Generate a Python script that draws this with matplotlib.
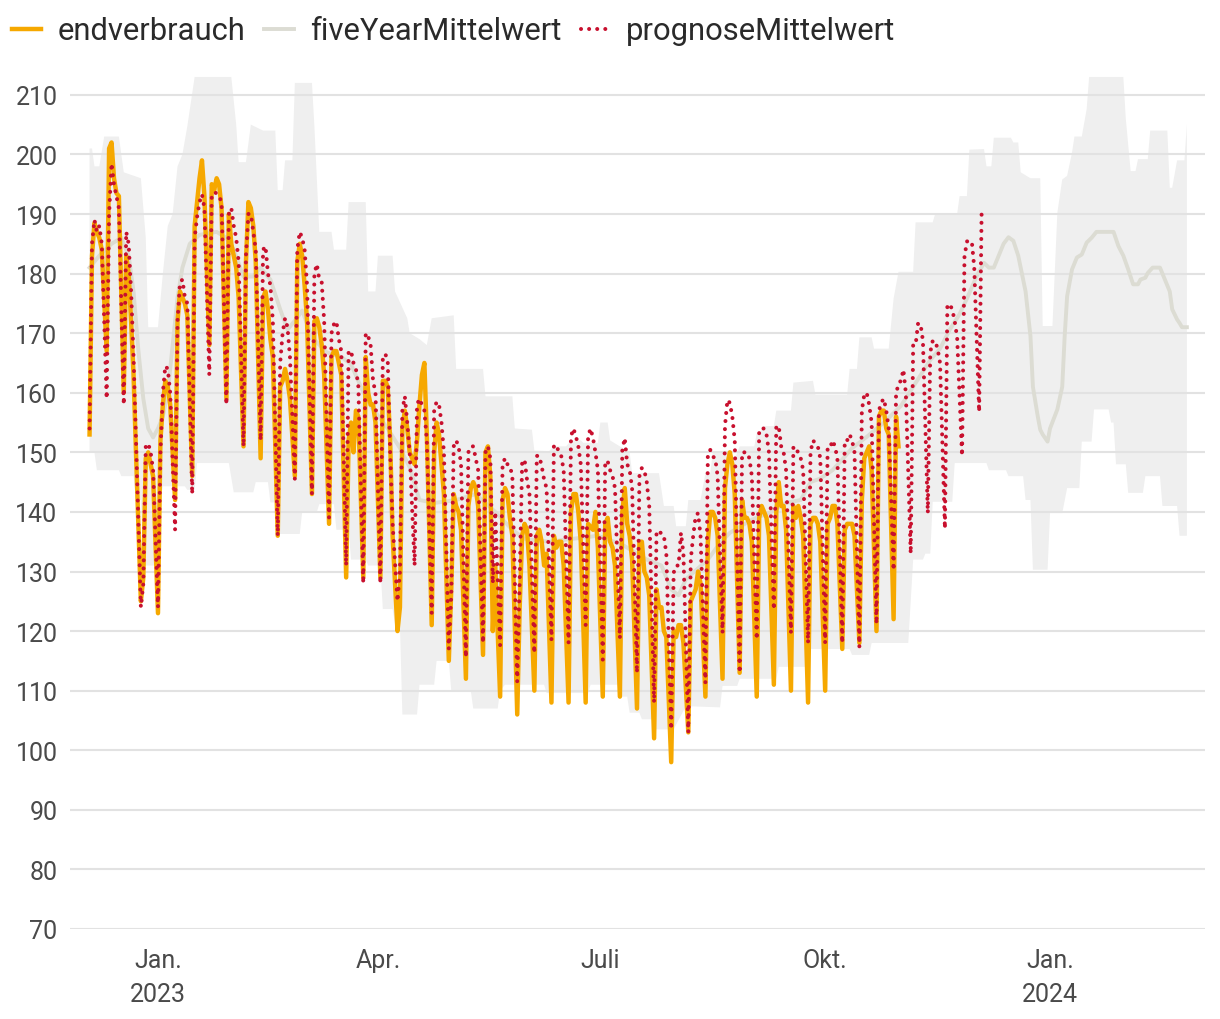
import numpy as np
import pandas as pd
import matplotlib
matplotlib.use("Agg")
import matplotlib.pyplot as plt
from matplotlib.lines import Line2D

plt.rcParams['font.family'] = ['Roboto', 'DejaVu Sans']

# ===================================================
# DATEN
# Wochenzeilen ab Sonntag 2022-12-04: So, Mo, Di, Mi, Do, Fr
# (Samstag nicht abgelesen)
# ===================================================

start_woche = "2022-12-04"

endverbrauch = [
    [153, 183, 188.5, 187, 186, 184],
    [167, 201, 202, 196, 193.5, 193],
    [160, 183, 180, 172, 163, 150],
    [125, 129, 149, 150, 148, 146],
    [123, 152, 158, 162, 161, 158],
    [142, 172, 177, 176, 175, 173],
    [146, 188, 192, 196, 199, 193],
    [168, 195, 194, 196, 195, 191],
    [159, 190, 185, 183, 181, 176],
    [151, 182, 192, 191, 188, 182],
    [149, 176, 177, 174, 169, 166],
    [136, 161, 162, 164, 162, 159],
    [146, 182, 185, 183, 178, 172],
    [143, 172, 172.5, 171, 168, 163],
    [138, 166, 167, 167, 165, 163],
    [129, 152, 155, 150, 157, 156],
    [129, 166, 160, 158, 158, 155],
    [129, 162, 162, 161, 152, 136],
    [120, 124, 154, 157, 154, 150],
    [148, 152, 158, 163, 165, 153],
    [121, 150, 155, 153, 148, 143],
    [115, 127, 143, 141, 140, 137],
    [112, 141, 144, 145, 144, 141],
    [116, 150, 151, 146, 120, 131],
    [109, 142, 144, 143, 139, 136],
    [106, 124, 136, 138, 137, 131],
    [110, 136, 137, 135, 131, 133],
    [108, 136, 134, 135, 135, 131],
    [108, 140, 143, 143, 140, 135],
    [108, 138, 137.5, 137, 140, 134],
    [109, 138, 139, 135, 134, 131],
    [109, 140, 144, 138, 136, 132],
    [107, 135, 135, 130, 129, 126],
    [102, 127, 124, 124, 120, 119],
    [98, 120, 119, 121, 121, 118],
    [103, 125, 126, 127, 130, 128],
    [109, 135, 140, 140, 139, 136],
    [112, 144, 148, 150, 148, 143],
    [113, 142, 139, 139, 138, 135],
    [109, 139, 141, 140, 139, 136],
    [111, 140, 145, 141, 141, 137],
    [110, 141, 139, 141, 139, 136],
    [108, 138, 139, 139, 138, 135],
    [110, 138, 139, 141, 141, 138],
    [117, 137, 138, 138, 138, 136],
    [118, 142, 149, 150, 151, 147],
    [120, 156, 157, 157, 154, 153],
    [122, 156, 151],
]

prognose = [
    [154, 185, 189, 187, 188, 185],
    [159, 190, 198.5, 195, 193, 191],
    [158, 187, 185, 177, 166, 152],
    [124, 128, 151, 151.5, 150, 147],
    [124, 150, 160, 164.5, 164, 160],
    [137, 172, 178.5, 179, 176, 175],
    [143, 186, 189.5, 192, 193.3, 191],
    [163, 193.3, 193.6, 193.5, 193, 192],
    [158, 190, 191, 188, 186, 182],
    [151, 183, 190, 190, 187, 184],
    [152, 184, 184.6, 180, 178, 172],
    [136, 165, 170, 172.5, 171, 166],
    [145.5, 184, 187, 186, 184, 178],
    [143, 180, 181.6, 179, 178.5, 172],
    [139, 170, 171.5, 172, 169, 167],
    [131, 167, 167, 165, 164, 161],
    [128, 170, 169.5, 168, 162, 160],
    [128, 166, 166.5, 165.5, 150, 138],
    [125, 130, 157, 159.4, 155, 150],
    [131, 158, 159, 158, 157, 152],
    [123, 157, 158.5, 158, 155, 150],
    [117, 126, 151, 152, 151, 148],
    [115.6, 150, 151, 151, 149, 147],
    [118, 150, 151, 149, 128, 140],
    [117.6, 148, 149, 148, 147.7, 146],
    [111.5, 128.6, 148.2, 148.8, 145.4, 143],
    [116.3, 149.4, 149.4, 147.7, 145.4, 144],
    [118.5, 151, 151.3, 150, 149.4, 147],
    [118, 152.7, 154, 152.7, 151, 148],
    [121, 152.7, 154, 152.4, 150, 147],
    [115.2, 148.5, 148.5, 147, 146, 144],
    [118.8, 150.5, 152.4, 148, 147, 144],
    [113, 146, 147.4, 147, 145, 141],
    [108, 136.8, 136.5, 136.5, 136, 133],
    [103.5, 129.8, 131, 131, 136.5, 133],
    [103, 132, 136, 139.3, 139.8, 136],
    [111.3, 150, 150.4, 149.3, 149, 146],
    [119.7, 154.4, 158.8, 158.3, 156, 152],
    [113, 150, 150, 150, 149, 146],
    [118.6, 153.8, 154, 154, 153, 150],
    [123.6, 154.4, 154.4, 151, 150, 147],
    [119.7, 151, 150.5, 150, 149, 147],
    [118, 150, 152, 151.5, 151, 149],
    [118, 150.7, 150.7, 152, 151, 149],
    [118, 152, 152, 153, 152, 150],
    [117.3, 157, 159.7, 160, 158, 155],
    [121.2, 157, 158.4, 159, 157, 154],
    [130.2, 159.7, 161.6, 162, 163.9, 160],
    [133, 168, 168, 171.6, 171.6, 168.7],
    [139.8, 166.8, 168.7, 168.7, 167.4, 165],
    [137.2, 174.8, 174.8, 174, 172, 169.3],
    [149.4, 182.8, 185.4, 185.4, 185.4, 181],
    [156.8, 190],
]

# Tage ab 2023-01-01
five_tag = [-28, -24, -19, -15, -12, -10, -8, -6, -4, -2, 0, 2, 4, 6, 8, 10,
            13, 17, 24, 28, 31, 35, 39, 42, 46, 50, 53, 57, 59, 63, 69, 75,
            79, 83, 87, 94, 99, 103, 107, 113, 122, 130, 138, 145, 150, 160,
            170, 180, 190, 200, 206, 210, 213, 216, 225, 230, 234, 243, 250,
            257, 263, 267, 271, 276, 280, 284, 290, 297, 304, 309, 316, 320,
            324, 328, 331, 335, 338, 340, 342, 344, 346, 348, 350, 352, 355,
            357, 358, 360, 361, 362, 364, 365, 368, 370, 371, 372, 374, 376,
            378, 380, 382, 384, 391, 393, 395, 397, 399, 401, 402, 404, 405,
            407, 410, 412, 414, 415, 417, 418, 419, 421]
five_wert = [181, 183, 185, 186, 183, 177, 167, 159, 154, 152.5, 154, 156, 160,
             168, 176, 181, 185, 186.5, 187, 186, 184, 179.5, 179.5, 181, 179,
             174, 170.6, 172.6, 173.8, 169.3, 166.8, 166, 164.8, 161, 157.8,
             154, 150.7, 147.5, 142, 141.5, 142, 143, 140, 137, 135.5, 135,
             135.5, 136, 134.5, 132, 131, 127, 126, 128.7, 132, 134.8, 136.5,
             138.7, 139.8, 141.5, 142, 145, 145.6, 147, 148.8, 150.7, 152.6,
             155, 157.8, 161, 165.5, 167.4, 170.6, 173.2, 175.8, 179.6, 181.8,
             181, 181, 183, 185, 186.1, 185.5, 183, 177, 169.5, 161, 156,
             153.8, 153, 151.8, 154, 157.2, 161, 169.5, 176.2, 180.7, 182.7,
             183.2, 185.2, 186, 187, 187, 184.6, 183, 180.7, 178.2, 178.2, 179,
             179.3, 180.1, 181, 181, 179, 177, 174, 172.3, 171.7, 171, 171]

band_oben_tag = [-28, -27, -26, -24, -22, -16, -14, -7, -5, -4, 0, 2, 4, 6, 8,
                 10, 12, 15, 30, 32, 33, 36, 38, 43, 48, 49, 51, 52, 55, 56,
                 63, 64, 66, 71, 72, 77, 78, 85, 86, 89, 90, 96, 97, 102, 103,
                 107, 110, 112, 121, 122, 133, 134, 145, 146, 153, 154, 160,
                 162, 167, 169, 173, 174, 180, 181, 184, 185, 189, 193, 194,
                 205, 207, 211, 212, 216, 217, 222, 224, 226, 227, 234, 236,
                 238, 244, 245, 246, 248, 252, 253, 259, 260, 268, 269, 282,
                 283, 286, 287, 292, 293, 299, 301, 303, 309, 310, 317, 318,
                 327, 328, 331, 332, 338, 339, 341, 342, 349, 350, 352, 353,
                 357, 361, 362, 366, 368, 370, 372, 374, 375, 378, 380, 381,
                 395, 396, 398, 400, 401, 405, 406, 413, 414, 415, 417, 420,
                 421]
band_oben_wert = [201, 201, 198, 198, 203, 203, 197, 196, 186, 171, 171, 180,
                  188, 190, 198, 200, 204.7, 213, 213, 205, 198.7, 198.7, 205,
                  204, 204, 194, 194, 199, 199, 212, 212, 204.7, 187, 187, 184,
                  184, 192, 192, 177, 177, 183, 183, 177, 172.5, 170, 169, 168,
                  172.5, 173, 164, 164, 159.4, 159.4, 154, 153.8, 150.3, 150.2,
                  151, 151, 152, 152, 151.6, 151.6, 155, 155, 152, 151, 150,
                  146.5, 146.5, 141, 141, 137.6, 137.6, 142, 142, 146.5, 146.5,
                  150, 150, 148.8, 151, 151, 153.2, 153.2, 154.4, 154.4, 157,
                  157, 161.7, 162, 159.7, 159.7, 164, 164, 169.3, 169.3, 167.4,
                  167.4, 175.8, 180.3, 180.3, 188.6, 188.6, 190, 190, 193, 193,
                  200.8, 200.9, 198, 198, 202.8, 202.8, 202, 202, 197, 196, 196,
                  171.2, 171.2, 190.2, 195.8, 196.4, 200.3, 203, 203, 207.6,
                  213, 213, 206, 197.2, 197.2, 199.2, 199.2, 204, 204, 194.4,
                  194.4, 199, 199, 205]

band_unten_tag = [-28, -26, -25, -16, -15, -10, -9, -7, -6, -1, 0, 2, 11, 12,
                  15, 16, 29, 31, 39, 40, 45, 46, 48, 49, 58, 59, 65, 66, 72,
                  73, 78, 79, 85, 86, 91, 92, 96, 97, 99, 100, 106, 107, 113,
                  114, 119, 120, 128, 129, 139, 140, 142, 158, 159, 176, 177,
                  188, 189, 192, 193, 197, 198, 202, 203, 211, 216, 230, 231,
                  237, 238, 253, 254, 266, 267, 283, 284, 291, 292, 307, 309,
                  313, 314, 316, 317, 325, 326, 339, 340, 347, 348, 354, 355,
                  357, 358, 364, 365, 370, 372, 377, 378, 382, 383, 389, 390,
                  391, 392, 396, 397, 403, 404, 410, 411, 417, 418, 421]
band_unten_wert = [150, 150, 147, 147, 146, 146, 142, 142, 131, 131, 140,
                   144.3, 144.3, 143.7, 143.7, 148.2, 148.2, 143.3, 143.3, 145,
                   145, 141.6, 141.6, 136.3, 136.3, 140, 140, 141.3, 141.3, 137,
                   137, 132, 132, 131, 131, 123.7, 123.7, 121.2, 121.2, 106,
                   106, 111, 111, 115, 115, 110, 110, 107, 107, 110, 111, 111,
                   109.6, 109.6, 111, 111, 109, 109, 106.3, 106.3, 105.2, 105.2,
                   103.5, 103.5, 107.4, 107.2, 110.8, 110.8, 112, 112, 114, 114,
                   117, 117, 116, 116, 118, 118, 132, 132, 133, 133, 141.7,
                   141.7, 148.2, 148.2, 147, 147, 146, 146, 142, 142, 130.3,
                   130.3, 139.8, 139.8, 144, 144, 151.8, 151.8, 157.2, 157.2,
                   155, 155, 148, 148, 143.2, 143.2, 146, 146, 141, 141, 136,
                   136]

monate = ["2023-01-01", "2023-04-01", "2023-07-01", "2023-10-01", "2024-01-01"]
monat_labels = ["Jan.\n2023", "Apr.", "Juli", "Okt.", "Jan.\n2024"]

# ===================================================
# HILFSFUNKTIONEN
# ===================================================

def wochen_reihe(zeilen, start):
    t0 = pd.Timestamp(start)
    datum, wert = [], []
    for w, zeile in enumerate(zeilen):
        for d, v in enumerate(zeile):
            datum.append(t0 + pd.Timedelta(days=7 * w + d))
            wert.append(v)
    return datum, wert


def tage(liste):
    return pd.Timestamp("2023-01-01") + pd.to_timedelta(liste, unit="D")


t_end, y_end = wochen_reihe(endverbrauch, start_woche)
t_prog, y_prog = wochen_reihe(prognose, start_woche)

# ===================================================
# GRAFIK
# ===================================================

fig = plt.figure(figsize=(12.2, 10.2), dpi=100)
ax = fig.add_axes([70 / 1220, 1 - 930 / 1020, 1135 / 1220, 858 / 1020])

band_x = list(tage(band_oben_tag)) + list(tage(band_unten_tag))[::-1]
band_y = band_oben_wert + band_unten_wert[::-1]
ax.fill(band_x, band_y, color='#efefef', linewidth=0, zorder=1)

ax.plot(tage(five_tag), five_wert, color='#dcdcd3', linewidth=2.8,
        solid_joinstyle='round', zorder=2)
ax.plot(t_end, y_end, color='#f6a800', linewidth=3.2,
        solid_joinstyle='round', zorder=3)
ax.plot(t_prog, y_prog, color='#c8102e', linewidth=2.9,
        linestyle=(0, (0.01, 2.0)), dash_capstyle='round', zorder=4)

ax.set_ylim(70, 214)
ax.set_xlim(pd.Timestamp("2022-11-26"), pd.Timestamp("2024-03-04 10:00"))
ax.set_yticks(range(70, 211, 10))
ax.set_xticks(pd.to_datetime(monate))
ax.set_xticklabels(monat_labels, linespacing=1.5)

ax.set_axisbelow('line')
ax.yaxis.grid(True, color='#e2e2e2', linewidth=1.5)
ax.xaxis.grid(False)

for s in ax.spines.values():
    s.set_visible(False)

ax.tick_params(axis='both', length=0, labelsize=18, labelcolor='#4a4a4a')
ax.tick_params(axis='y', pad=9)
ax.tick_params(axis='x', pad=14)

handles = [
    Line2D([], [], color='#f6a800', linewidth=3.2),
    Line2D([], [], color='#dcdcd3', linewidth=2.8),
    Line2D([], [], color='#c8102e', linewidth=2.9,
           linestyle=(0, (0.01, 2.0)), dash_capstyle='round'),
]
labels = ['endverbrauch', 'fiveYearMittelwert', 'prognoseMittelwert']
fig.legend(handles, labels, loc='center left',
           bbox_to_anchor=(12 / 1220, 1 - 32 / 1020), ncol=3, frameon=False,
           prop={'size': 22.3}, handlelength=0.95, borderaxespad=0,
           handletextpad=0.52, columnspacing=0.62, borderpad=0,
           labelcolor='#2a2a2a')

fig.savefig('out.png', dpi=100)
